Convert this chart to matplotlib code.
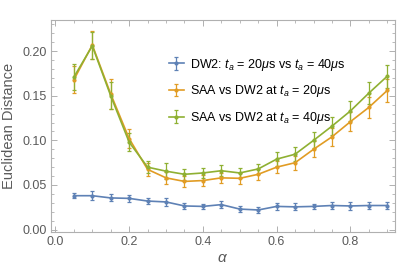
import matplotlib.pyplot as plt
from matplotlib.ticker import MultipleLocator

alpha = [0.05, 0.10, 0.15, 0.20, 0.25, 0.30, 0.35, 0.40, 0.45,
         0.50, 0.55, 0.60, 0.65, 0.70, 0.75, 0.80, 0.85, 0.90]

dw2 = [0.038, 0.038, 0.0355, 0.035, 0.032, 0.031, 0.0265, 0.026, 0.028,
       0.023, 0.022, 0.026, 0.0255, 0.026, 0.027, 0.0265, 0.027, 0.027]
dw2_err = [0.003, 0.005, 0.004, 0.004, 0.003, 0.004, 0.003, 0.003, 0.004,
           0.003, 0.003, 0.004, 0.004, 0.003, 0.004, 0.004, 0.004, 0.004]

saa20 = [0.168, 0.207, 0.152, 0.102, 0.0675, 0.058, 0.054, 0.055, 0.058,
         0.0575, 0.062, 0.070, 0.075, 0.090, 0.104, 0.121, 0.137, 0.156]
saa20_err = [0.015, 0.016, 0.017, 0.011, 0.007, 0.007, 0.006, 0.006, 0.006,
             0.006, 0.006, 0.007, 0.008, 0.009, 0.010, 0.011, 0.012, 0.013]

saa40 = [0.171, 0.206, 0.150, 0.098, 0.070, 0.0655, 0.062, 0.0635, 0.066,
         0.0635, 0.068, 0.079, 0.0845, 0.100, 0.116, 0.133, 0.153, 0.172]
saa40_err = [0.015, 0.015, 0.015, 0.010, 0.007, 0.009, 0.006, 0.006, 0.006,
             0.006, 0.006, 0.008, 0.008, 0.009, 0.010, 0.011, 0.012, 0.013]

labels = [r"DW2: $t_a$ = 20$\mu$s vs $t_a$ = 40$\mu$s",
          r"SAA vs DW2 at $t_a$ = 20$\mu$s",
          r"SAA vs DW2 at $t_a$ = 40$\mu$s"]
colors = ["#5E81B5", "#E19C24", "#8FB032"]

plt.rcParams['font.family'] = ['Liberation Sans', 'DejaVu Sans']
plt.rcParams['mathtext.fontset'] = 'custom'
plt.rcParams['mathtext.rm'] = 'Liberation Sans'
plt.rcParams['mathtext.it'] = 'Liberation Sans:italic'
plt.rcParams['mathtext.fallback'] = 'cm'

fig = plt.figure(figsize=(4.15, 2.72), dpi=100)
ax = fig.add_axes([51 / 415, 1 - 232 / 272, 344 / 415, 212 / 272])

for y, e, c, lab in zip([dw2, saa20, saa40], [dw2_err, saa20_err, saa40_err], colors, labels):
    ax.errorbar(alpha, y, yerr=e, color=c, lw=1.2, marker='o', ms=2,
                elinewidth=0.9, capsize=1.5, capthick=0.9, label=lab)

ax.set_xlim(-0.012, 0.921)
ax.set_ylim(-0.0027, 0.235)
ax.xaxis.set_major_locator(MultipleLocator(0.2))
ax.xaxis.set_minor_locator(MultipleLocator(0.05))
ax.yaxis.set_major_locator(MultipleLocator(0.05))
ax.yaxis.set_minor_locator(MultipleLocator(0.01))
ax.xaxis.set_major_formatter(plt.FuncFormatter(lambda v, p: f"{v:.1f}"))
ax.yaxis.set_major_formatter(plt.FuncFormatter(lambda v, p: f"{v:.2f}"))

for s in ax.spines.values():
    s.set_color('#b0b0b0')
    s.set_linewidth(0.8)
ax.tick_params(which='both', direction='in', color='#b0b0b0', labelcolor='#5a5a5a',
               top=True, right=True, labelsize=9, pad=3)
ax.tick_params(which='major', length=4, width=0.7)
ax.tick_params(which='minor', length=2, width=0.6)

ax.set_ylabel("Euclidean Distance", fontsize=10.5, color='#5a5a5a', labelpad=5)
ax.set_xlabel(r"$\alpha$", fontsize=11, color='#5a5a5a', labelpad=2)

ax.legend(loc='upper left', bbox_to_anchor=(0.31, 0.88), frameon=False, fontsize=9,
          handlelength=1.2, handletextpad=0.5, labelspacing=0.85)

fig.savefig("out.png", dpi=100)
